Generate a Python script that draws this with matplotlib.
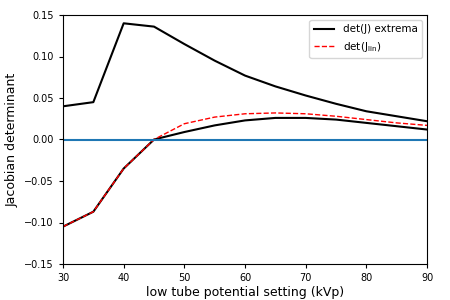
import numpy as np
import matplotlib.pyplot as plt

# low tube potential settings (kVp)
kvp = [30, 35, 40, 45, 50, 55, 60, 65, 70, 75, 80, 85, 90]

# det(J) extrema: upper and lower bounds
detj_max = [0.040, 0.045, 0.140, 0.136, 0.115, 0.095, 0.077, 0.064, 0.053, 0.043, 0.034, 0.028, 0.022]
detj_min = [-0.105, -0.087, -0.035, 0.000, 0.009, 0.017, 0.023, 0.026, 0.026, 0.024, 0.020, 0.016, 0.012]

# det(J_lin)
detj_lin = [-0.105, -0.087, -0.035, 0.000, 0.019, 0.027, 0.031, 0.032, 0.031, 0.028, 0.024, 0.020, 0.017]

fig = plt.figure(figsize=(4.5, 3), dpi=100)
ax = fig.add_axes([0.14, 0.12, 0.809, 0.83])

ax.plot(kvp, detj_max, color="black", lw=1.5, label="det(J) extrema")
ax.plot(kvp, detj_min, color="black", lw=1.5)
ax.plot(kvp, detj_lin, color="red", ls="--", lw=1, label=r"det(J$_{\rm lin}$)")
ax.axhline(0, color="C0", lw=1.5)

ax.set_xlim(30, 90)
ax.set_ylim(-0.15, 0.15)
ax.set_yticks(np.arange(-0.15, 0.151, 0.05))
ax.tick_params(labelsize=7, length=3)
ax.set_xlabel("low tube potential setting (kVp)", fontsize=9, labelpad=2)
ax.set_ylabel("Jacobian determinant", fontsize=9, labelpad=4)
ax.legend(loc="upper right", fontsize=7.5)

fig.savefig("out.png")
